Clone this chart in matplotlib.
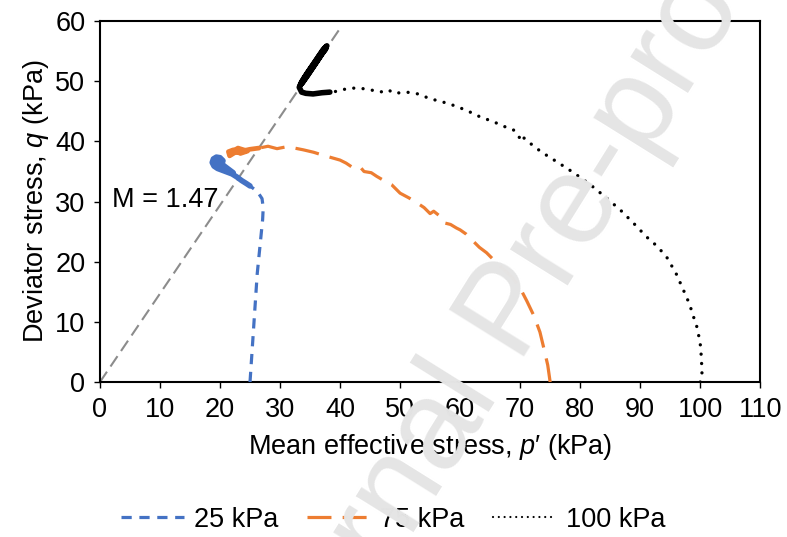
import numpy as np
import matplotlib
matplotlib.use("Agg")
import matplotlib.pyplot as plt
from matplotlib.lines import Line2D

plt.rcParams['font.family'] = ['Liberation Sans', 'DejaVu Sans']
plt.rcParams['mathtext.fontset'] = 'custom'
plt.rcParams['mathtext.rm'] = 'Liberation Sans'
plt.rcParams['mathtext.it'] = 'Liberation Sans:italic'

# ====== stress paths (p', q) in kPa ======
p_25 = [25.0, 25.2, 25.4, 25.6, 25.8, 26.0, 26.2, 26.5, 26.8, 27.1, 27.2, 27.0,
        26.4, 25.8, 25.0, 24.4, 23.6, 22.8, 22.0, 21.2, 20.4, 19.6, 19.0, 18.7,
        18.9, 19.4, 20.0, 20.5, 20.3, 19.7, 19.2, 19.3, 19.9, 20.6, 21.4, 22.2]
q_25 = [0.0, 3.0, 6.0, 9.0, 12.0, 15.0, 18.0, 21.0, 24.0, 27.0, 29.0, 30.5,
        31.4, 32.0, 32.6, 33.0, 33.5, 34.1, 34.6, 34.9, 35.2, 35.5, 35.9, 36.5,
        37.1, 37.4, 37.3, 36.8, 36.2, 36.0, 36.4, 36.9, 36.7, 36.0, 35.4, 34.8]

p_75 = [75.0, 74.6, 74.0, 73.3, 72.3, 71.1, 69.9, 68.5, 66.7, 65.5, 64.4, 63.2,
        62.2, 61.0, 60.0, 59.4, 58.4, 57.2, 56.6, 55.6, 55.0, 54.0, 52.8, 51.5,
        50.0, 48.6, 47.3, 46.1, 45.2, 44.0, 43.3, 42.2, 41.0, 40.0, 38.6, 37.2,
        35.6, 33.9, 32.4, 31.0, 29.5, 28.0, 26.5, 25.0, 23.6, 22.4, 21.6, 21.4,
        22.2, 23.4, 24.6, 23.0, 21.8]
q_75 = [0.0, 2.8, 5.4, 8.3, 11.0, 13.5, 15.8, 17.6, 19.2, 20.4, 21.5, 22.4,
        23.4, 24.6, 25.3, 25.6, 26.2, 26.5, 27.6, 28.4, 28.0, 29.0, 29.8, 30.6,
        31.4, 32.8, 33.5, 34.2, 34.8, 35.0, 35.8, 35.6, 36.4, 36.9, 37.3, 37.7,
        38.2, 38.6, 38.9, 39.1, 38.8, 39.2, 38.9, 38.7, 38.4, 38.1, 37.6, 38.3,
        38.6, 38.0, 38.4, 38.9, 38.2]

p_100 = [100.0, 100.3, 100.2, 100.0, 99.5, 98.9, 98.2, 97.2, 96.0, 94.4, 92.8,
         91.1, 89.0, 86.7, 84.5, 82.2, 80.2, 78.3, 76.3, 74.4, 72.5, 71.1, 70.6,
         70.2, 69.6, 68.9, 67.8, 65.5, 63.3, 61.0, 58.9, 57.0, 55.0, 53.0, 51.1,
         49.0, 48.0, 46.7, 45.0, 43.0, 41.1, 40.0, 38.3, 37.0, 35.5, 34.3, 33.6,
         33.2, 33.6, 34.5, 35.5, 36.5, 37.4, 37.8, 37.2, 36.2, 35.1, 34.0, 33.4,
         33.8, 34.9, 36.0, 37.0, 37.6, 37.0, 35.8, 34.6, 33.6]
q_100 = [0.0, 1.2, 4.0, 6.4, 9.0, 10.8, 13.0, 15.3, 18.0, 20.8, 22.6, 24.1, 26.3,
         28.6, 30.5, 32.4, 33.9, 35.2, 36.5, 37.7, 39.0, 40.2, 40.6, 40.0, 41.2,
         41.9, 42.3, 43.3, 44.1, 45.2, 46.0, 46.6, 47.1, 47.9, 48.2, 48.0, 48.6,
         48.2, 48.6, 48.9, 48.8, 48.4, 48.2, 48.1, 47.9, 48.0, 48.2, 49.0, 49.9,
         51.3, 52.7, 54.2, 55.4, 55.9, 55.3, 53.8, 52.2, 50.5, 49.4, 49.9, 51.5,
         53.1, 54.6, 55.4, 54.6, 52.8, 51.0, 49.6]

# where the logged points get dense near failure (index into each path)
dense_25 = 14
dense_75 = 42
dense_100 = 42

# critical state line
M = 1.47
csl_p = np.array([0.0, 40.0])
csl_q = M * csl_p

series_labels = ['25 kPa', '75 kPa', '100 kPa']
blue = '#4472C4'
orange = '#ED7D31'
fs = 19.5

# ====== figure ======
fig = plt.figure(figsize=(7.87, 5.37), dpi=100)
ax = fig.add_axes([0.127, 0.2886, 0.839, 0.672])

ax.plot(csl_p, csl_q, color='#8c8c8c', lw=1.5, dashes=(6, 3), zorder=1)
ax.plot(p_25, q_25, color=blue, lw=2.3, dashes=(3.2, 2.4), zorder=3)
ax.plot(p_75, q_75, color=orange, lw=2.3, dashes=(7.5, 3.5), zorder=3)
ax.plot(p_100, q_100, color='black', lw=2.4, dashes=(0.01, 2.8),
        dash_capstyle='round', zorder=3)

# dense clusters of points read as solid smudges
ax.plot(p_25[dense_25:], q_25[dense_25:], color=blue, lw=4.0,
        solid_joinstyle='round', solid_capstyle='round', zorder=3)
ax.plot(p_75[dense_75:], q_75[dense_75:], color=orange, lw=3.4,
        solid_joinstyle='round', solid_capstyle='round', zorder=3)
ax.plot(p_100[dense_100:], q_100[dense_100:], color='black', lw=4.0,
        solid_joinstyle='round', solid_capstyle='round', zorder=3)

ax.text(2.0, 30.2, 'M = 1.47', fontsize=fs, ha='left', va='center')

ax.set_xlim(0, 110)
ax.set_ylim(0, 60)
ax.set_xticks(range(0, 111, 10))
ax.set_yticks(range(0, 61, 10))
ax.tick_params(direction='out', length=4.5, width=1, labelsize=fs, pad=6)
for s in ax.spines.values():
    s.set_linewidth(1.5)

ax.set_xlabel("Mean effective stress, $p$\u2032 (kPa)", fontsize=fs, labelpad=7)
ax.set_ylabel("Deviator stress, $q$ (kPa)", fontsize=fs, labelpad=3)

handles = [
    Line2D([], [], color=blue, lw=2.3, dashes=(3.2, 2.4)),
    Line2D([], [], color=orange, lw=2.3, dashes=(7.5, 3.5)),
    Line2D([], [], color='black', lw=1.6, dashes=(0.01, 2.6), dash_capstyle='round'),
]
fig.legend(handles, series_labels, loc='center', bbox_to_anchor=(0.5, 0.032),
           ncol=3, frameon=False, fontsize=fs, handlelength=2.3,
           handletextpad=0.4, columnspacing=1.05)

fig.text(0.650, 0.415, 'Journal Pre-proof', fontsize=92, color='#e5e5e5',
         rotation=58, rotation_mode='anchor', ha='center', va='center', zorder=10)

fig.savefig('out.png', dpi=100)
